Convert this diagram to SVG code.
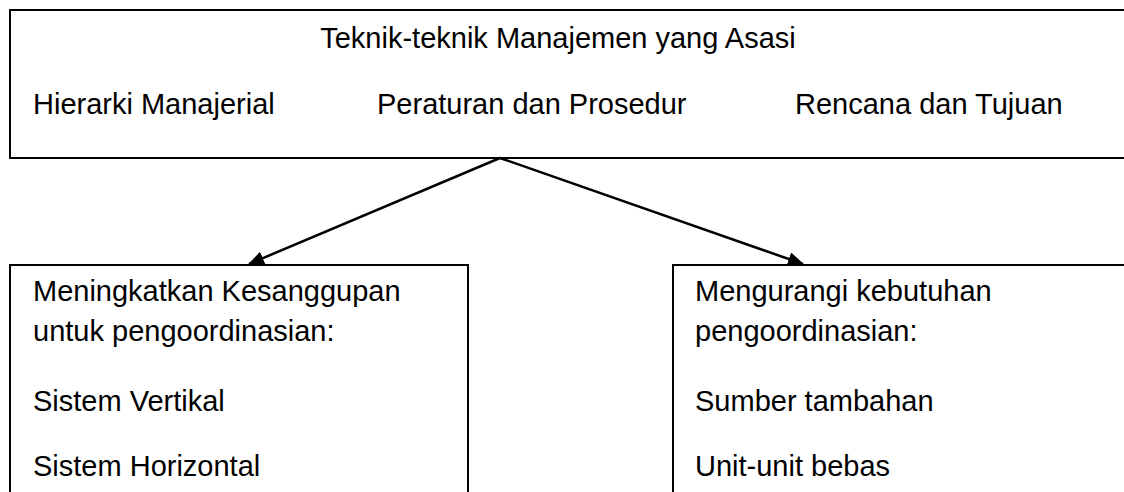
<svg xmlns="http://www.w3.org/2000/svg" width="1124" height="492" viewBox="0 0 1124 492">
<style>
.box{fill:#fff;stroke:#000;stroke-width:2}
.t{font-family:"Liberation Sans",Arial,sans-serif;font-size:29px;fill:#000}
.c{stroke:#000;stroke-width:2.5;fill:none}
</style>
<defs>
<marker id="ah" markerWidth="16" markerHeight="14" refX="15" refY="7" orient="auto" markerUnits="userSpaceOnUse">
<path d="M0,0 L16,7 L0,14 Z" fill="#000"/>
</marker>
</defs>
<rect width="1124" height="492" fill="#fff"/>
<g id="top">
<rect class="box" x="10" y="10" width="1130" height="148"/>
<text class="t" x="558" y="48" text-anchor="middle">Teknik-teknik Manajemen yang Asasi</text>
<text class="t" x="33" y="114">Hierarki Manajerial</text>
<text class="t" x="377" y="114">Peraturan dan Prosedur</text>
<text class="t" x="795" y="114">Rencana dan Tujuan</text>
</g>
<g id="left">
<rect class="box" x="10" y="265" width="458" height="240"/>
<text class="t" x="33" y="301">Meningkatkan Kesanggupan</text>
<text class="t" x="33" y="341">untuk pengoordinasian:</text>
<text class="t" x="33" y="411">Sistem Vertikal</text>
<text class="t" x="33" y="476">Sistem Horizontal</text>
</g>
<g id="right">
<rect class="box" x="673" y="265" width="460" height="240"/>
<text class="t" x="695" y="301">Mengurangi kebutuhan</text>
<text class="t" x="695" y="341">pengoordinasian:</text>
<text class="t" x="695" y="411">Sumber tambahan</text>
<text class="t" x="695" y="476">Unit-unit bebas</text>
</g>
<g id="connectors">
<line class="c" x1="500" y1="158" x2="249" y2="264" marker-end="url(#ah)"/>
<line class="c" x1="500" y1="158" x2="803" y2="264" marker-end="url(#ah)"/>
</g>
</svg>
